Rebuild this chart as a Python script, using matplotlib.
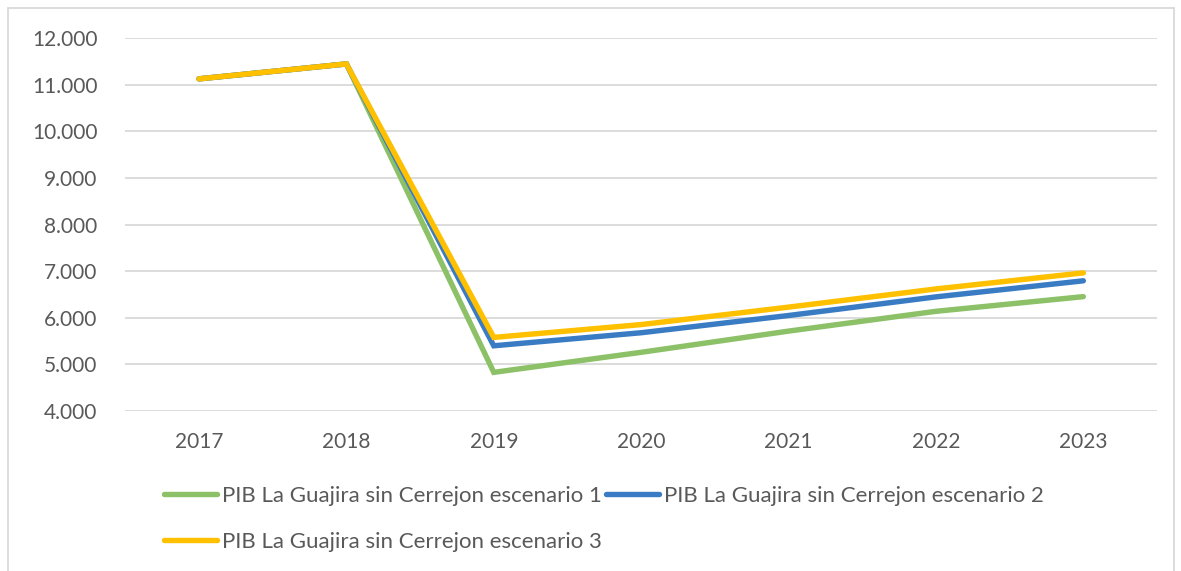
import matplotlib.pyplot as plt
from matplotlib.patches import Rectangle
from matplotlib.ticker import FuncFormatter

plt.rcParams['font.family'] = ['Lato', 'DejaVu Sans']

years = ['2017', '2018', '2019', '2020', '2021', '2022', '2023']
escenario_1 = [11130, 11450, 4830, 5260, 5715, 6140, 6455]
escenario_2 = [11130, 11450, 5400, 5680, 6050, 6450, 6795]
escenario_3 = [11130, 11450, 5580, 5855, 6230, 6620, 6965]
labels = ['PIB La Guajira sin Cerrejon escenario 1',
          'PIB La Guajira sin Cerrejon escenario 2',
          'PIB La Guajira sin Cerrejon escenario 3']
colors = ['#8cc168', '#3a7cc3', '#ffc000']

text_color = '#595959'

fig = plt.figure(figsize=(11.81, 5.71), dpi=100)
ax = fig.add_axes([0.1061, 0.2802, 0.8736, 0.6527])

x = range(len(years))
lines = []
for series, label, color in zip([escenario_1, escenario_2, escenario_3], labels, colors):
    ln, = ax.plot(x, series, color=color, lw=3.9, label=label,
                  solid_capstyle='round', solid_joinstyle='miter')
    lines.append(ln)

ax.set_xlim(-0.5, len(years) - 0.5)
ax.set_ylim(4000, 12000)
ax.set_yticks(range(4000, 12001, 1000))
ax.yaxis.set_major_formatter(FuncFormatter(lambda v, p: f'{int(v):,}'.replace(',', '.')))
ax.set_xticks(list(x))
ax.set_xticklabels(years)

ax.grid(axis='y', color='#d9d9d9', lw=1.3)
ax.set_axisbelow(True)
for s in ax.spines.values():
    s.set_visible(False)
ax.tick_params(length=0, labelsize=15, colors=text_color)
ax.tick_params(axis='y', pad=20)
ax.tick_params(axis='x', pad=15)

# row-major order: esc1, esc2 on first row, esc3 below
order = [0, 2, 1]
fig.legend([lines[i] for i in order], [labels[i] for i in order],
           ncol=2, loc='upper left',
           bbox_to_anchor=(164 / 1181, 1 - 486 / 571),
           frameon=False, fontsize=16, labelcolor=text_color,
           handlelength=2.4, handletextpad=0.2, columnspacing=0.2,
           labelspacing=1.15, borderaxespad=0, borderpad=0)

fig.patches.append(Rectangle((8 / 1181, -0.1), 1166 / 1181, 1.1 - 8 / 571,
                             transform=fig.transFigure, fill=False,
                             ec='#d9d9d9', lw=1.3))

fig.savefig('out.png', dpi=100, facecolor='white')
